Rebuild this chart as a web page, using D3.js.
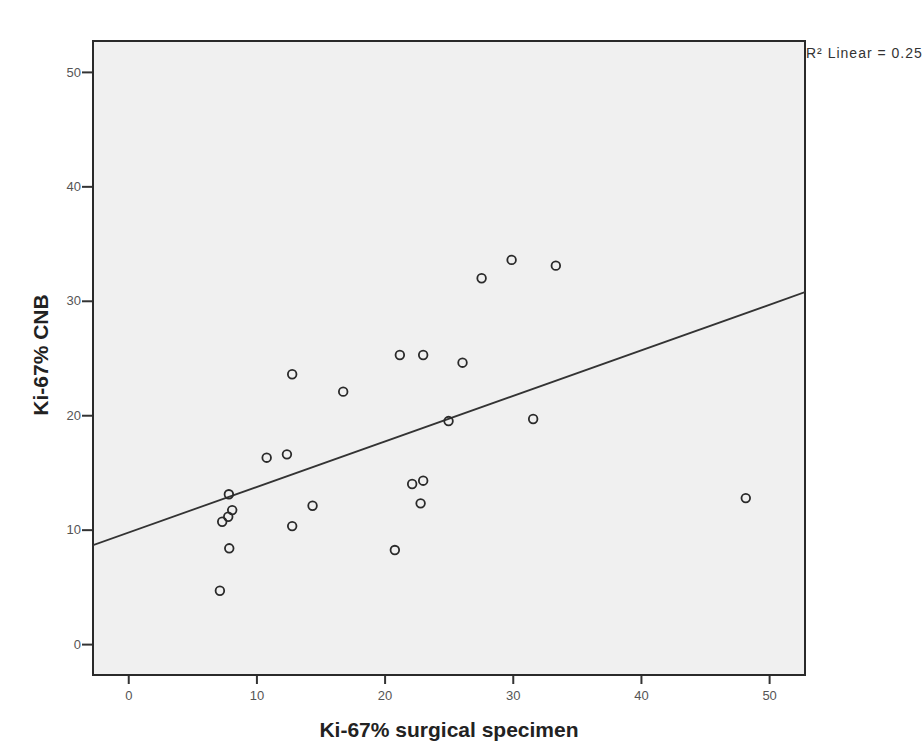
<!DOCTYPE html>
<html>
<head>
<meta charset="utf-8">
<script src="https://cdn.jsdelivr.net/npm/d3@7"></script>
<style>
  body { margin: 0; background: #fff; }
  svg { font-family: "Liberation Sans", Arial, sans-serif; }
</style>
</head>
<body>
<script>
// Ki-67% surgical specimen (x) vs Ki-67% CNB (y)
var surgical = [7.15, 7.88, 7.33, 7.80, 8.11, 7.85, 10.80, 12.38, 12.79, 12.79, 14.38, 16.77,
                20.80, 21.19, 22.15, 23.01, 22.81, 23.01, 24.99, 26.08, 27.57, 29.91, 33.36, 31.59, 48.18];
var cnb      = [4.66, 8.37, 10.69, 11.13, 11.71, 13.09, 16.29, 16.58, 23.58, 10.31, 12.09, 22.06,
                8.22, 25.26, 13.99, 14.28, 12.30, 25.26, 19.49, 24.59, 31.97, 33.57, 33.07, 19.67, 12.76];
var xTicks = [0, 10, 20, 30, 40, 50];
var yTicks = [0, 10, 20, 30, 40, 50];
var fitIntercept = 9.74;
var fitSlope = 0.398;
var r2Label = "R\u00B2 Linear = 0.25";

function scatter() {
  var W = 922, H = 754;
  var left = 93, top = 41, right = 805, bottom = 675;

  var svg = d3.select("body").append("svg")
              .attr("width", W)
              .attr("height", H);

  var x = d3.scaleLinear().domain([-2.75, 52.8]).range([left, right]);
  var y = d3.scaleLinear().domain([-2.7, 52.7]).range([bottom, top]);

  // plot area
  svg.append("rect")
     .attr("x", left).attr("y", top)
     .attr("width", right - left).attr("height", bottom - top)
     .attr("fill", "#f0f0f0")
     .attr("stroke", "#2a2a2a")
     .attr("stroke-width", 2);

  // axes
  var xAxis = svg.append("g")
     .attr("transform", "translate(0," + (bottom + 1) + ")")
     .call(d3.axisBottom(x).tickValues(xTicks).tickSize(8).tickPadding(7));
  var yAxis = svg.append("g")
     .attr("transform", "translate(" + (left - 1) + ",0)")
     .call(d3.axisLeft(y).tickValues(yTicks).tickSize(10).tickPadding(1));

  [xAxis, yAxis].forEach(function (g) {
    g.select(".domain").remove();
    g.selectAll(".tick line").attr("stroke", "#333").attr("stroke-width", 2);
    g.selectAll(".tick text")
     .attr("fill", "#555")
     .attr("font-size", "13px")
     .attr("font-family", "Liberation Sans, Arial, sans-serif");
  });

  // fit line, clipped to plot area
  svg.append("clipPath").attr("id", "plotclip")
     .append("rect")
     .attr("x", left).attr("y", top)
     .attr("width", right - left).attr("height", bottom - top);

  var xd = x.domain();
  svg.append("line")
     .attr("clip-path", "url(#plotclip)")
     .attr("x1", x(xd[0])).attr("y1", y(fitIntercept + fitSlope * xd[0]))
     .attr("x2", x(xd[1])).attr("y2", y(fitIntercept + fitSlope * xd[1]))
     .attr("stroke", "#333")
     .attr("stroke-width", 1.8);

  // points
  svg.selectAll("circle.pt")
     .data(d3.range(surgical.length))
     .enter()
     .append("circle")
     .attr("class", "pt")
     .attr("cx", function (i) { return x(surgical[i]); })
     .attr("cy", function (i) { return y(cnb[i]); })
     .attr("r", 4.3)
     .attr("fill", "none")
     .attr("stroke", "#2a2a2a")
     .attr("stroke-width", 1.8);

  // R2 label
  svg.append("text")
     .attr("x", right + 1)
     .attr("y", 58)
     .attr("font-size", "14px")
     .attr("letter-spacing", "1px")
     .attr("fill", "#333")
     .text(r2Label);

  // axis titles
  svg.append("text")
     .attr("x", 449)
     .attr("y", 737)
     .attr("text-anchor", "middle")
     .attr("font-size", "21px")
     .attr("font-weight", "bold")
     .attr("fill", "#222")
     .text("Ki-67% surgical specimen");

  svg.append("text")
     .attr("transform", "translate(48,355) rotate(-90)")
     .attr("text-anchor", "middle")
     .attr("font-size", "21px")
     .attr("font-weight", "bold")
     .attr("fill", "#222")
     .text("Ki-67% CNB");
}

scatter();
</script>
</body>
</html>
